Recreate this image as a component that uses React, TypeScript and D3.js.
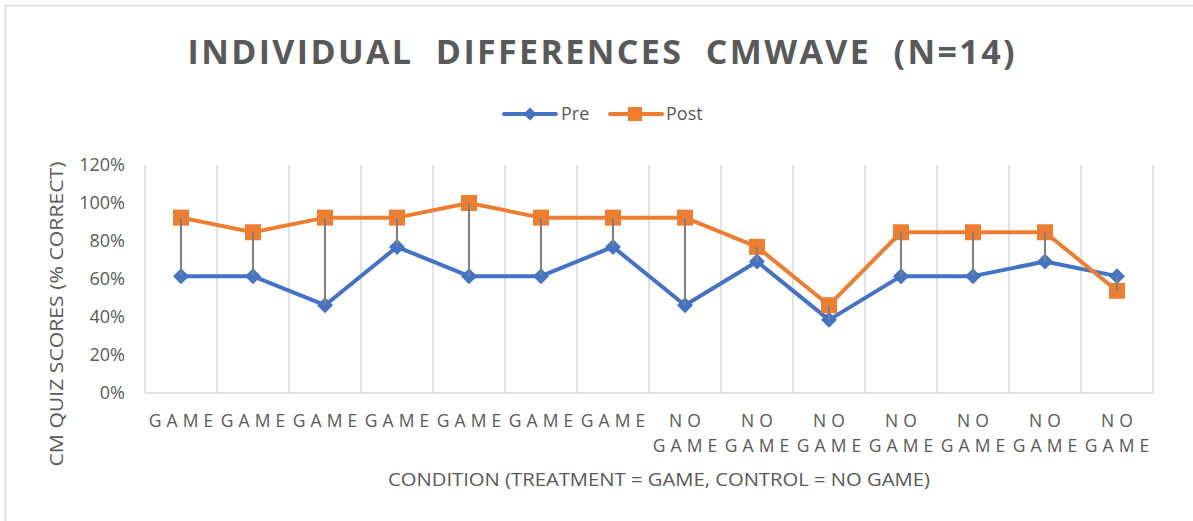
import React from "react";
import * as d3 from "d3";

const categories = ["GAME","GAME","GAME","GAME","GAME","GAME","GAME","NO GAME","NO GAME","NO GAME","NO GAME","NO GAME","NO GAME","NO GAME"];
const preScores = [61.5, 61.5, 46.2, 76.9, 61.5, 61.5, 76.9, 46.2, 69.2, 38.5, 61.5, 61.5, 69.2, 61.5];
const postScores = [92.3, 84.6, 92.3, 92.3, 100, 92.3, 92.3, 92.3, 76.9, 46.2, 84.6, 84.6, 84.6, 53.8];
const yTicks = [0, 20, 40, 60, 80, 100, 120];

const W = 1193, H = 521;
const M = { left: 145, right: 1153, top: 165, bottom: 393 };
const BLUE = "#4472C4", ORANGE = "#ED7D31", TEXT = "#595959", GRID = "#d9d9d9";
const FONT = "'Open Sans', sans-serif";

export default function App() {
  const idx = categories.map((_, i) => i);
  const x = d3.scaleBand<number>().domain(idx).range([M.left, M.right]).padding(0);
  const y = d3.scaleLinear().domain([0, 120]).range([M.bottom, M.top]);
  const cx = (i: number) => (x(i) as number) + x.bandwidth() / 2;
  const line = d3.line<number>().x((_, i) => cx(i)).y((d) => y(d));
  const diamond = (s: number) => `M0,${-s}L${s},0L0,${s}L${-s},0Z`;

  return (
    <svg width={W} height={H} style={{ position: "absolute", left: 0, top: 0, background: "#fff" }}>
      <rect x={5.5} y={5.5} width={W + 10} height={H + 10} fill="#fff" stroke="#d9d9d9" strokeWidth={1.5} />
      <text x={601} y={64} textAnchor="middle" fontFamily={FONT} fontWeight={700} fontSize={34}
        fill={TEXT} textLength={827} lengthAdjust="spacing" style={{ whiteSpace: "pre" }}>{"INDIVIDUAL  DIFFERENCES  CMWAVE  (N=14)"}</text>

      {/* legend */}
      <g>
        <line x1={504} x2={556} y1={114} y2={114} stroke={BLUE} strokeWidth={4} strokeLinecap="round" />
        <path d={diamond(6.5)} transform="translate(530,114)" fill={BLUE} />
        <text x={561} y={120} fontFamily={FONT} fontSize={18} fill={TEXT}>Pre</text>
        <line x1={610} x2={662} y1={114} y2={114} stroke={ORANGE} strokeWidth={4} strokeLinecap="round" />
        <rect x={628} y={107} width={14} height={14} fill={ORANGE} />
        <text x={666} y={120} fontFamily={FONT} fontSize={18} fill={TEXT}>Post</text>
      </g>

      {/* vertical gridlines */}
      {d3.range(categories.length + 1).map((i) => {
        const gx = i < categories.length ? (x(i) as number) : M.right;
        return <line key={i} x1={gx} x2={gx} y1={M.top} y2={M.bottom} stroke={GRID} strokeWidth={1.5} />;
      })}
      <line x1={M.left} x2={M.right} y1={M.bottom} y2={M.bottom} stroke={GRID} strokeWidth={1.5} />

      {/* y tick labels */}
      {yTicks.map((t) => (
        <text key={t} x={125} y={y(t) + 6} textAnchor="end" fontFamily={FONT} fontSize={18} fill={TEXT}>{t}%</text>
      ))}

      {/* x tick labels */}
      {categories.map((c, i) => {
        const parts = c.split(" ");
        return parts.map((p, j) => (
          <text key={`${i}-${j}`} x={cx(i) + 2.5} y={427 + j * 25} textAnchor="middle" fontFamily={FONT}
            fontSize={17.5} letterSpacing={5} fill={TEXT}>{p}</text>
        ));
      })}

      {/* axis titles */}
      <text x={659} y={486} textAnchor="middle" fontFamily={FONT} fontSize={18} fill={TEXT}
        textLength={542} lengthAdjust="spacingAndGlyphs">CONDITION (TREATMENT = GAME, CONTROL = NO GAME)</text>
      <text transform="translate(63,314) rotate(-90)" textAnchor="middle" fontFamily={FONT} fontSize={19} fill={TEXT}
        textLength={305} lengthAdjust="spacingAndGlyphs">CM QUIZ SCORES (% CORRECT)</text>

      {/* series */}
      <path d={line(preScores) || ""} fill="none" stroke={BLUE} strokeWidth={4} strokeLinejoin="round" />
      <path d={line(postScores) || ""} fill="none" stroke={ORANGE} strokeWidth={4} strokeLinejoin="round" />
      {preScores.map((v, i) => (
        <path key={`p${i}`} d={diamond(8)} transform={`translate(${cx(i)},${y(v)})`} fill={BLUE} />
      ))}
      {postScores.map((v, i) => (
        <rect key={`q${i}`} x={cx(i) - 8} y={y(v) - 8} width={16} height={16} fill={ORANGE} />
      ))}

      {/* high-low lines */}
      {preScores.map((v, i) => (
        <line key={`h${i}`} x1={cx(i)} x2={cx(i)} y1={y(Math.max(v, postScores[i]))} y2={y(Math.min(v, postScores[i]))}
          stroke="#7f7f7f" strokeWidth={2} />
      ))}
    </svg>
  );
}
